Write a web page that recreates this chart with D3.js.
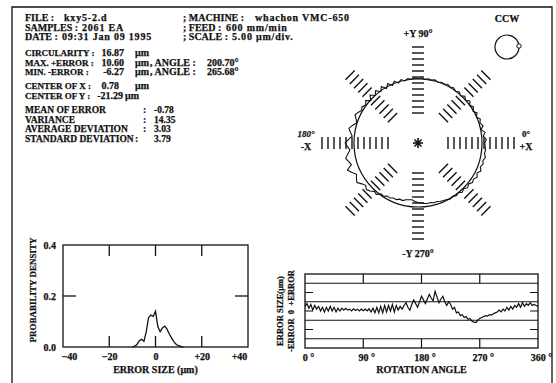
<!DOCTYPE html>
<html>
<head>
<meta charset="utf-8">
<script src="https://cdn.jsdelivr.net/npm/d3@7"></script>
<style>
  html, body { margin: 0; padding: 0; background: #fff; }
  svg { display: block; }
  text { font-family: "Liberation Serif", "DejaVu Serif", serif; font-weight: bold; fill: #111; stroke: #111; stroke-width: 0.25; white-space: pre; }
</style>
</head>
<body>
<div id="chart"></div>
<script>
// ── Data ────────────────────────────────────────────────────────────────────
const headerKeys = ['FILE :', 'SAMPLES :', 'DATE :']
const headerVals = ['kxy5-2.d', '2061 EA', '09:31 Jan 09 1995']
const machineKeys = ['; MACHINE :', '; FEED :', '; SCALE :']
const machineVals = ['whachon VMC-650', '600 mm/min', '5.00 \u03bcm/div.']
const errLabels = ['CIRCULARITY :', 'MAX. +ERROR :', 'MIN. -ERROR :']
const errValues = ['16.87', '10.60', '-6.27']
const errAngles = [null, '200.70\u00b0', '265.68\u00b0']
const centerLabels = ['CENTER OF X :', 'CENTER OF Y :']
const centerValues = ['0.78', '-21.29']
const statLabels = ['MEAN OF ERROR', 'VARIANCE', 'AVERAGE DEVIATION', 'STANDARD DEVIATION']
const statValues = ['-0.78', '14.35', '3.03', '3.79']

// radial error (um) sampled every 3 degrees, 0..357, CCW from +X
const ANGLE_STEP = 3
const profileError = [
  2.5, 4.0, 1.5, 3.5, 0.5, 3.0, 1.0, 2.5, 0.0, 2.0,
  -0.5, 2.0, 0.0, 2.5, 0.0, 2.0, -0.5, 1.5, 0.0, 1.5,
  0.5, 1.5, 0.5, 1.0, 0.0, 1.2, 0.3, 1.0, 0.0, 1.0,
  0.2, 1.0, 0.0, 1.2, -0.5, 1.5, -1.0, 2.0, -1.0, 2.5,
  -1.0, 3.0, -0.5, 3.0, 0.0, 3.5, -0.5, 3.0, 0.5, 2.5,
  1.0, 3.0, 4.5, 2.0, 0.5, 3.5, 6.0, 4.0, 2.0, 5.0,
  8.0, 6.0, 4.0, 6.5, 9.0, 7.0, 5.5, 10.6, 7.5, 4.5,
  6.5, 8.0, 5.0, 3.0, 5.0, 3.5, 1.0, 2.0, -1.0, -0.5,
  -2.5, -2.0, -3.5, -3.0, -4.5, -4.0, -5.5, -6.0, -6.27, -5.0,
  -4.0, -3.5, -3.0, -2.5, -2.8, -2.0, -2.2, -1.5, -1.0, -0.5,
  0.5, -0.5, 1.0, 0.0, 2.0, 0.5, 2.5, 1.0, 3.0, 2.0,
  4.0, 2.0, 4.5, 2.5, 4.0, 3.0, 4.5, 3.0, 3.5, 3.0
]

// probability density of error size
const histError = [-10, -9, -8, -7, -6, -5, -4, -3, -2, -1, 0, 1, 2, 3, 4, 5, 6, 7, 8, 9, 10, 11, 12]
const histDensity = [0, 0.003, 0.01, 0.025, 0.03, 0.022, 0.06, 0.115, 0.125, 0.12, 0.14, 0.08, 0.06, 0.075, 0.082, 0.07, 0.05, 0.035, 0.02, 0.01, 0.005, 0.002, 0]

const histTicks = [-40, -20, 0, 20, 40]
const densityTicks = [0, 0.2, 0.4]
const angleTicks = [0, 90, 180, 270, 360]

// ── SVG ─────────────────────────────────────────────────────────────────────
const W = 556, H = 383
const svg = d3.select('#chart').append('svg').attr('width', W).attr('height', H)
const ink = '#111'

// frame
svg.append('path')
  .attr('d', `M12,${H} V7 H552 V${H}`)
  .attr('fill', 'none').attr('stroke', ink).attr('stroke-width', 1.3)

function txt(x, y, s, opts = {}) {
  const t = svg.append('text').attr('x', x).attr('y', y).text(s)
    .style('font-size', (opts.size || 10) + 'px')
    .attr('text-anchor', opts.anchor || 'start')
  if (opts.ls) t.style('letter-spacing', opts.ls + 'px')
  return t
}

// ── Text block ──────────────────────────────────────────────────────────────
const headerValX = [64, 82, 62]
const machineValX = [255, 226, 232]
headerKeys.forEach((s, i) => {
  const y = 21 + i * 9.5
  txt(25, y, s)
  txt(headerValX[i], y, headerVals[i], { ls: 0.8 })
  txt(183, y, machineKeys[i])
  txt(machineValX[i], y, machineVals[i], { ls: 0.8 })
})

errLabels.forEach((s, i) => {
  const y = 56 + i * 9.5
  txt(25, y, s, { size: 9 })
  txt(124, y, errValues[i], { anchor: 'end' })
  txt(135, y, '\u03bcm')
  if (errAngles[i]) {
    txt(150, y, ', ANGLE :')
    txt(207, y, errAngles[i])
  }
})
centerLabels.forEach((s, i) => {
  const y = 89 + i * 9.5
  txt(25, y, s, { size: 9 })
  txt(i === 0 ? 119 : 123, y, centerValues[i], { anchor: 'end' })
  txt(i === 0 ? 135 : 125, y, '\u03bcm')
})
statLabels.forEach((s, i) => {
  const y = 113 + i * 9.6
  txt(25, y, s, { size: 9.5 })
  txt(i === 3 ? 135 : 143, y, ':', { size: 9.5 })
  txt(154, y, statValues[i], { size: 9.5 })
})

// ── Polar plot ──────────────────────────────────────────────────────────────
const cx = 418, cy = 143, R = 64, k = 1.1
const pg = svg.append('g').attr('transform', `translate(${cx},${cy})`)
const tickR = d3.range(12).map(i => 30 + 6 * i)

function hatch(deg, radii, len) {
  const a = deg * Math.PI / 180
  const ux = Math.cos(a), uy = -Math.sin(a)
  const vx = Math.sin(a), vy = Math.cos(a)
  radii.forEach(r => {
    pg.append('line')
      .attr('x1', r * ux - vx * len / 2).attr('y1', r * uy - vy * len / 2)
      .attr('x2', r * ux + vx * len / 2).attr('y2', r * uy + vy * len / 2)
      .attr('stroke', ink).attr('stroke-width', 1.4)
  })
}
;[0, 90, 180, 270].forEach(d => hatch(d, tickR, 12))
;[45, 135, 225, 315].forEach(d => hatch(d, tickR.slice(1, 6).concat(tickR.slice(7, 12)), 13))

pg.append('circle').attr('r', R).attr('fill', 'none').attr('stroke', ink).attr('stroke-width', 1.2)

const radial = d3.lineRadial()
  .angle((d, i) => Math.PI / 2 - i * ANGLE_STEP * Math.PI / 180)
  .radius(d => R + k * d)
  .curve(d3.curveLinearClosed)
pg.append('path').attr('d', radial(profileError))
  .attr('fill', 'none').attr('stroke', ink).attr('stroke-width', 1.1)

// asterisk
;[0, 45, 90, 135].forEach(d => {
  const a = d * Math.PI / 180
  pg.append('line')
    .attr('x1', -5 * Math.cos(a)).attr('y1', -5 * Math.sin(a))
    .attr('x2', 5 * Math.cos(a)).attr('y2', 5 * Math.sin(a))
    .attr('stroke', ink).attr('stroke-width', 1.6)
})

txt(cx, 37, '+Y 90\u00b0', { anchor: 'middle' })
txt(cx, 257, '-Y 270\u00b0', { anchor: 'middle' })
txt(cx - 112, 137, '180\u00b0', { anchor: 'middle', size: 9 }).style('font-style', 'italic')
txt(cx - 112, 150, '-X', { anchor: 'middle' })
txt(cx + 108, 137, '0\u00b0', { anchor: 'middle', size: 9 })
txt(cx + 108, 150, '+X', { anchor: 'middle' })

// CCW marker
txt(507, 22, 'CCW', { anchor: 'middle' })
svg.append('circle').attr('cx', 507).attr('cy', 47).attr('r', 12)
  .attr('fill', 'none').attr('stroke', ink).attr('stroke-width', 1.2)
svg.append('circle').attr('cx', 519).attr('cy', 46).attr('r', 2.2)
  .attr('fill', '#fff').attr('stroke', ink).attr('stroke-width', 1)

// ── Histogram ───────────────────────────────────────────────────────────────
const hx = d3.scaleLinear().domain([-40, 40]).range([63, 248])
const hy = d3.scaleLinear().domain([0, 0.4]).range([347, 245])
svg.append('rect').attr('x', hx(-40)).attr('y', hy(0.4))
  .attr('width', hx(40) - hx(-40)).attr('height', hy(0) - hy(0.4))
  .attr('fill', 'none').attr('stroke', ink).attr('stroke-width', 1.3)
histTicks.slice(1, 4).forEach(v => {
  svg.append('line').attr('x1', hx(v)).attr('x2', hx(v)).attr('y1', hy(0.4)).attr('y2', hy(0.4) + 11).attr('stroke', ink).attr('stroke-width', 1.3)
  svg.append('line').attr('x1', hx(v)).attr('x2', hx(v)).attr('y1', hy(0)).attr('y2', hy(0) - 11).attr('stroke', ink).attr('stroke-width', 1.3)
})
svg.append('line').attr('x1', hx(-40)).attr('x2', hx(-40) + 13).attr('y1', hy(0.2)).attr('y2', hy(0.2)).attr('stroke', ink).attr('stroke-width', 1.3)
svg.append('line').attr('x1', hx(40)).attr('x2', hx(40) - 13).attr('y1', hy(0.2)).attr('y2', hy(0.2)).attr('stroke', ink).attr('stroke-width', 1.3)

const hxAxis = svg.append('g').attr('transform', `translate(0,${hy(0) + 3})`)
  .call(d3.axisBottom(hx).tickValues(histTicks).tickSize(0)
    .tickFormat(d => d > 0 ? '+' + d : (d < 0 ? '\u2212' + Math.abs(d) : '0')))
hxAxis.selectAll('text').attr('dx', d => d === -40 ? 6 : (d === 40 ? -9 : 0))
const hyAxis = svg.append('g').attr('transform', `translate(${hx(-40) - 4},0)`)
  .call(d3.axisLeft(hy).tickValues(densityTicks).tickSize(0).tickFormat(d3.format('.1f')))
;[hxAxis, hyAxis].forEach(a => {
  a.select('.domain').remove()
  a.selectAll('text').style('font-size', '10px').attr('fill', ink)
    .style('font-family', '"Liberation Serif", serif').style('font-weight', 'bold')
})

svg.append('path')
  .attr('d', d3.line().x((d, i) => hx(histError[i])).y(d => hy(d))(histDensity))
  .attr('fill', 'none').attr('stroke', ink).attr('stroke-width', 1.3)

txt(hx(0), 373, 'ERROR SIZE (\u03bcm)', { anchor: 'middle' })
txt(0, 0, 'PROBABILITY DENSITY', { anchor: 'middle', size: 9 })
  .attr('transform', `translate(36,${hy(0.2) - 6}) rotate(-90)`)

// ── Error vs rotation angle ─────────────────────────────────────────────────
const lx = d3.scaleLinear().domain([0, 360]).range([305, 538])
const ly = d3.scaleLinear().domain([-20, 20]).range([348, 274])
svg.append('rect').attr('x', lx(0)).attr('y', ly(20))
  .attr('width', lx(360) - lx(0)).attr('height', ly(-20) - ly(20))
  .attr('fill', 'none').attr('stroke', ink).attr('stroke-width', 1.3)
;[-15, -5, 5, 15].forEach(v => {
  svg.append('line').attr('x1', lx(0)).attr('x2', lx(360)).attr('y1', ly(v)).attr('y2', ly(v))
    .attr('stroke', ink).attr('stroke-width', 1.1)
})
;[90, 180, 270].forEach(a => {
  ;[[15, 20], [-20, -15]].forEach(([a0, a1]) => {
    svg.append('line').attr('x1', lx(a)).attr('x2', lx(a)).attr('y1', ly(a0)).attr('y2', ly(a1))
      .attr('stroke', ink).attr('stroke-width', 1.2)
  })
})
;[-10, 0, 10].forEach(v => {
  svg.append('line').attr('x1', lx(0)).attr('x2', lx(0) + 8).attr('y1', ly(v)).attr('y2', ly(v)).attr('stroke', ink).attr('stroke-width', 1)
  svg.append('line').attr('x1', lx(360)).attr('x2', lx(360) - 8).attr('y1', ly(v)).attr('y2', ly(v)).attr('stroke', ink).attr('stroke-width', 1)
})
const linePts = profileError.map((e, i) => [i * ANGLE_STEP, e]).concat([[360, profileError[0]]])
svg.append('path')
  .attr('d', d3.line().x(d => lx(d[0])).y(d => ly(d[1]))(linePts))
  .attr('fill', 'none').attr('stroke', ink).attr('stroke-width', 1.2)

const lxAxis = svg.append('g').attr('transform', `translate(0,${ly(-20) + 3})`)
  .call(d3.axisBottom(lx).tickValues(angleTicks).tickSize(0).tickFormat(d => d + ' \u00b0'))
lxAxis.select('.domain').remove()
lxAxis.selectAll('text').style('font-size', '10px').attr('fill', ink).attr('dx', 3)
  .style('font-family', '"Liberation Serif", serif').style('font-weight', 'bold')

txt(lx(180), 373, 'ROTATION ANGLE', { anchor: 'middle' })
txt(0, 0, 'ERROR SIZE(\u03bcm)', { anchor: 'middle', size: 8.5 })
  .attr('transform', `translate(283,${ly(0)}) rotate(-90)`)
txt(0, 0, '-ERROR  0  +ERROR', { anchor: 'middle', size: 8.5 })
  .attr('transform', `translate(294,${ly(0)}) rotate(-90)`)
</script>
</body>
</html>
